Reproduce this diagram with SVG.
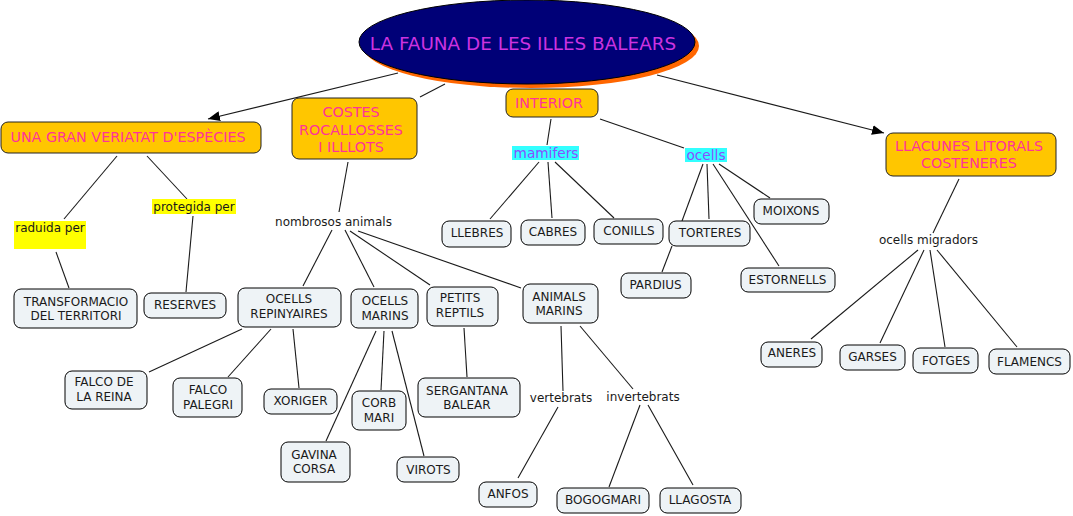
<svg xmlns="http://www.w3.org/2000/svg" width="1073" height="516" viewBox="0 0 1073 516">
<defs>
<marker id="arr" viewBox="0 0 12 10" refX="12" refY="5" markerWidth="12" markerHeight="10" markerUnits="userSpaceOnUse" orient="auto">
<path d="M0,0 L12,5 L0,10 Z" fill="#000"/>
</marker>
<style>
text{font-family:"DejaVu Sans","Verdana",sans-serif;text-anchor:middle;}
.lb rect{fill:#EEF3F6;stroke:#000;stroke-width:1;}
.lb text{font-size:12px;fill:#1a1a1a;}
.ob rect{fill:#FFC600;stroke:#222;stroke-width:1;}
.ob text{font-size:14.3px;fill:#FF3399;}
.lbl{font-size:12px;fill:#1a1a1a;}
.cy rect{fill:#33FFFF;}
.cy text{font-size:13.7px;fill:#8A4DFF;}
.ye rect{fill:#FFFF00;}
.ye text{font-size:12px;fill:#1a1a1a;}
#connectors line{stroke:#1a1a1a;stroke-width:1.1;}
</style>
</defs>
<rect width="1073" height="516" fill="#fff"/>

<g id="connectors">
<line x1="420" y1="97" x2="445" y2="84"/>
<line x1="398" y1="73" x2="208" y2="119" marker-end="url(#arr)"/>
<line x1="657" y1="75" x2="884" y2="133" marker-end="url(#arr)"/>
<line x1="551" y1="119" x2="547" y2="145"/>
<line x1="600" y1="119" x2="684" y2="148"/>
<line x1="117" y1="156" x2="64" y2="219"/>
<line x1="147" y1="156" x2="187" y2="199"/>
<line x1="56" y1="252" x2="69" y2="288"/>
<line x1="193" y1="216" x2="186" y2="292"/>
<line x1="348" y1="162" x2="339" y2="212"/>
<line x1="332" y1="230" x2="303" y2="286"/>
<line x1="345" y1="230" x2="374" y2="287"/>
<line x1="350" y1="231" x2="430" y2="285"/>
<line x1="358" y1="231" x2="521" y2="288"/>
<line x1="242" y1="329" x2="149" y2="372"/>
<line x1="271" y1="329" x2="228" y2="377"/>
<line x1="293" y1="329" x2="299" y2="388"/>
<line x1="376" y1="331" x2="326" y2="441"/>
<line x1="384" y1="331" x2="381" y2="390"/>
<line x1="392" y1="331" x2="424" y2="456"/>
<line x1="464" y1="328" x2="467" y2="377"/>
<line x1="561" y1="326" x2="563" y2="391"/>
<line x1="580" y1="326" x2="633" y2="389"/>
<line x1="558" y1="407" x2="518" y2="478"/>
<line x1="640" y1="405" x2="609" y2="487"/>
<line x1="648" y1="405" x2="693" y2="485"/>
<line x1="539" y1="162" x2="490" y2="219"/>
<line x1="548" y1="162" x2="552" y2="218"/>
<line x1="555" y1="162" x2="614" y2="218"/>
<line x1="703" y1="164" x2="682" y2="221"/>
<line x1="707" y1="164" x2="709" y2="219"/>
<line x1="713" y1="164" x2="779" y2="266"/>
<line x1="719" y1="164" x2="770" y2="198"/>
<line x1="672" y1="246" x2="662" y2="272"/>
<line x1="959" y1="179" x2="933" y2="233"/>
<line x1="918" y1="250" x2="811" y2="339"/>
<line x1="924" y1="250" x2="880" y2="343"/>
<line x1="930" y1="250" x2="945" y2="347"/>
<line x1="937" y1="250" x2="1017" y2="347"/>
</g>

<g id="title">
<ellipse cx="531" cy="46" rx="168" ry="42" fill="#FF6600"/>
<ellipse cx="527" cy="42" rx="168" ry="42" fill="#000077" stroke="#000" stroke-width="1"/>
<text x="523" y="49.5" font-size="18.4" fill="#CC33E0">LA FAUNA DE LES ILLES BALEARS</text>
</g>

<g id="una" class="ob"><rect x="1" y="122" width="260" height="31" rx="7"/><text x="128" y="142">UNA GRAN VERIATAT D'ESPÈCIES</text></g>
<g id="costes" class="ob"><rect x="292" y="98" width="125" height="61" rx="7"/><text x="351" y="117">COSTES</text><text x="351" y="134.5">ROCALLOSSES</text><text x="351" y="151.5">I ILLLOTS</text></g>
<g id="interior" class="ob"><rect x="506" y="89" width="92" height="28" rx="7"/><text x="549" y="108">INTERIOR</text></g>
<g id="llacunes" class="ob"><rect x="886" y="133" width="170" height="43" rx="7"/><text x="969" y="151">LLACUNES LITORALS</text><text x="969" y="168">COSTENERES</text></g>

<g id="raduida" class="ye"><rect x="14" y="221" width="72" height="28"/><text x="50" y="231.5">raduida per</text></g>
<g id="protegida" class="ye"><rect x="152" y="199" width="84" height="15"/><text x="194" y="211">protegida per</text></g>
<g id="nombrosos"><text class="lbl" x="333.5" y="226.3">nombrosos animals</text></g>
<g id="mamifers" class="cy"><rect x="512" y="146" width="67" height="14"/><text x="546" y="158">mamifers</text></g>
<g id="ocells" class="cy"><rect x="685" y="148" width="42" height="14"/><text x="706" y="160">ocells</text></g>
<g id="vertebrats"><text class="lbl" x="561" y="402.3">vertebrats</text></g>
<g id="invertebrats"><text class="lbl" x="643" y="401.3">invertebrats</text></g>
<g id="migradors"><text class="lbl" x="928.5" y="244.3">ocells migradors</text></g>

<g id="transformacio" class="lb"><rect x="14" y="289" width="123" height="39" rx="7"/><text x="76" y="306.3">TRANSFORMACIO</text><text x="76" y="320.3">DEL TERRITORI</text></g>
<g id="reserves" class="lb"><rect x="144" y="293" width="82" height="25" rx="7"/><text x="185" y="309.3">RESERVES</text></g>
<g id="repinyaires" class="lb"><rect x="238" y="288" width="103" height="39" rx="7"/><text x="289" y="303.3">OCELLS</text><text x="289" y="318.3">REPINYAIRES</text></g>
<g id="ocellsmarins" class="lb"><rect x="351" y="289" width="67" height="39" rx="7"/><text x="385" y="305.3">OCELLS</text><text x="385" y="320.3">MARINS</text></g>
<g id="petits" class="lb"><rect x="427" y="287" width="71" height="39" rx="7"/><text x="460" y="302.3">PETITS</text><text x="460" y="317.3">REPTILS</text></g>
<g id="animalsmarins" class="lb"><rect x="523" y="284" width="75" height="39" rx="7"/><text x="559" y="301.3">ANIMALS</text><text x="559" y="315.3">MARINS</text></g>
<g id="llebres" class="lb"><rect x="442" y="221" width="69" height="26" rx="7"/><text x="477" y="237.3">LLEBRES</text></g>
<g id="cabres" class="lb"><rect x="521" y="220" width="64" height="25" rx="7"/><text x="553" y="236.3">CABRES</text></g>
<g id="conills" class="lb"><rect x="594" y="219" width="69" height="25" rx="7"/><text x="629" y="235.3">CONILLS</text></g>
<g id="torteres" class="lb"><rect x="669" y="221" width="81" height="25" rx="7"/><text x="710" y="237.3">TORTERES</text></g>
<g id="moixons" class="lb"><rect x="754" y="199" width="75" height="25" rx="7"/><text x="791" y="215.3">MOIXONS</text></g>
<g id="pardius" class="lb"><rect x="621" y="273" width="70" height="25" rx="7"/><text x="655.5" y="289.3">PARDIUS</text></g>
<g id="estornells" class="lb"><rect x="741" y="268" width="94" height="24" rx="7"/><text x="787.5" y="284.3">ESTORNELLS</text></g>
<g id="falcoreina" class="lb"><rect x="65" y="371" width="82" height="38" rx="7"/><text x="104" y="386.3">FALCO DE</text><text x="104" y="401.3">LA REINA</text></g>
<g id="falcopalegri" class="lb"><rect x="173" y="378" width="69" height="39" rx="7"/><text x="208" y="394.3">FALCO</text><text x="208" y="409.3">PALEGRI</text></g>
<g id="xoriger" class="lb"><rect x="264" y="389" width="73" height="25" rx="7"/><text x="300.5" y="405.3">XORIGER</text></g>
<g id="corbmari" class="lb"><rect x="352" y="391" width="54" height="39" rx="7"/><text x="379" y="407.3">CORB</text><text x="379" y="422.3">MARI</text></g>
<g id="gavina" class="lb"><rect x="281" y="442" width="69" height="40" rx="7"/><text x="314" y="459.3">GAVINA</text><text x="314" y="473.3">CORSA</text></g>
<g id="virots" class="lb"><rect x="397" y="457" width="62" height="25" rx="7"/><text x="428.5" y="474.3">VIROTS</text></g>
<g id="sergantana" class="lb"><rect x="418" y="378" width="102" height="39" rx="7"/><text x="467" y="395.3">SERGANTANA</text><text x="467" y="409.3">BALEAR</text></g>
<g id="anfos" class="lb"><rect x="479" y="482" width="58" height="25" rx="7"/><text x="508" y="498.3">ANFOS</text></g>
<g id="bogogmari" class="lb"><rect x="557" y="488" width="92" height="25" rx="7"/><text x="603" y="504.3">BOGOGMARI</text></g>
<g id="llagosta" class="lb"><rect x="660" y="488" width="81" height="25" rx="7"/><text x="700" y="504.3">LLAGOSTA</text></g>
<g id="aneres" class="lb"><rect x="761" y="342" width="61" height="25" rx="7"/><text x="792" y="357.3">ANERES</text></g>
<g id="garses" class="lb"><rect x="840" y="345" width="65" height="25" rx="7"/><text x="872.5" y="361.3">GARSES</text></g>
<g id="fotges" class="lb"><rect x="913" y="348" width="65" height="25" rx="7"/><text x="946" y="365.3">FOTGES</text></g>
<g id="flamencs" class="lb"><rect x="989" y="349" width="81" height="25" rx="7"/><text x="1029.5" y="366.3">FLAMENCS</text></g>
</svg>
